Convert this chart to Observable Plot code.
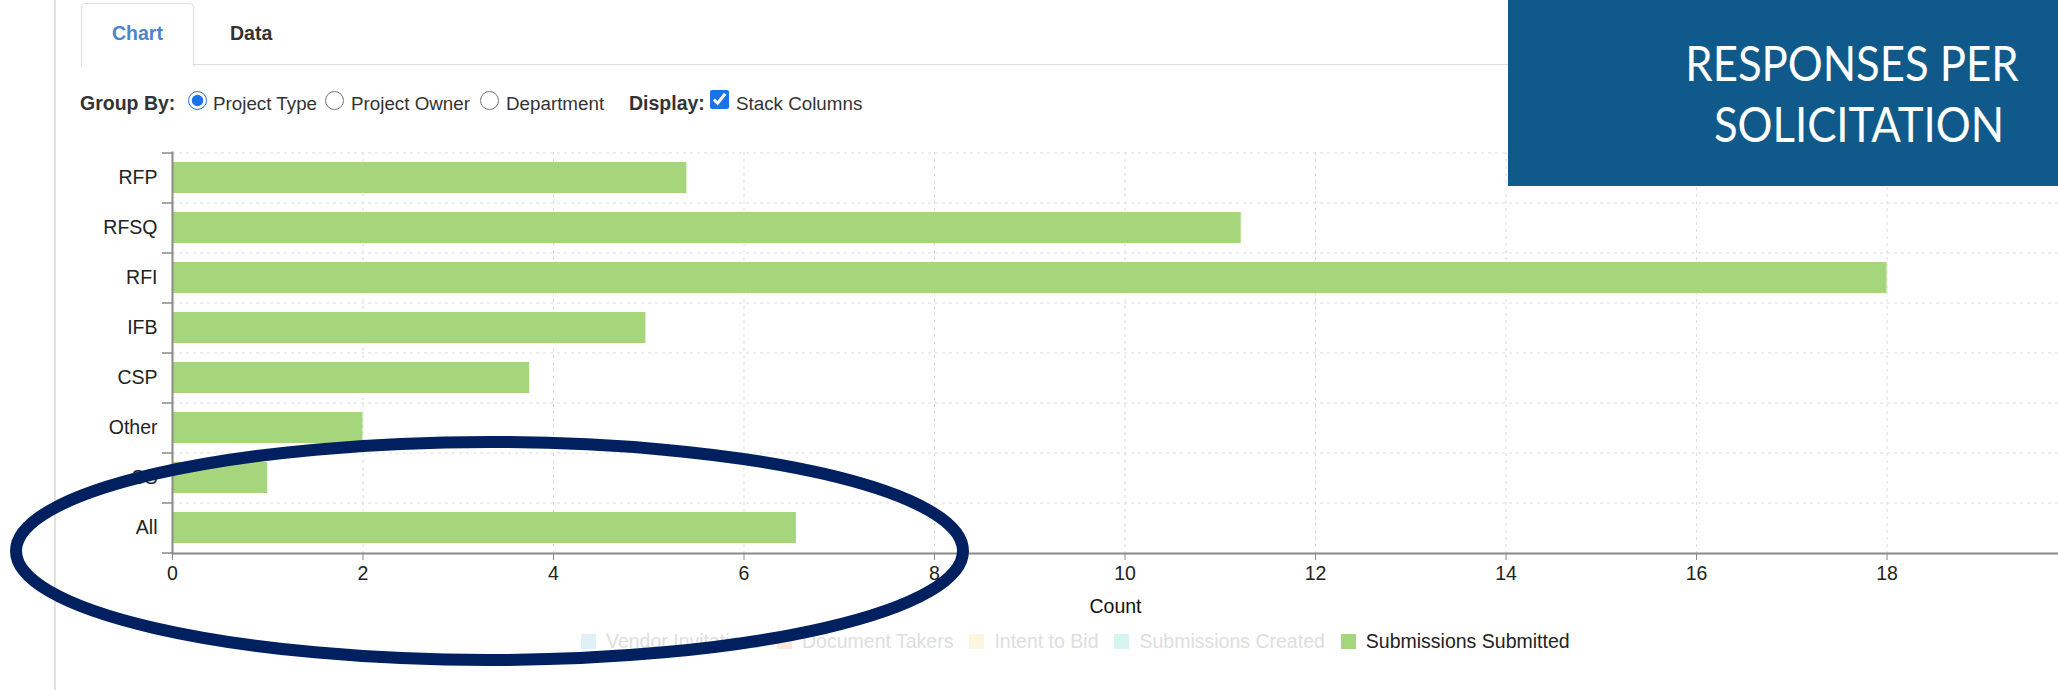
<!DOCTYPE html>
<html>
<head>
<meta charset="utf-8">
<script src="https://cdn.jsdelivr.net/npm/d3@7"></script>
<script src="https://cdn.jsdelivr.net/npm/@observablehq/plot@0.6"></script>
<style>
  html, body { margin: 0; padding: 0; background: #fff; overflow: hidden; width: 2058px; height: 690px; }
  body { position: relative; font-family: "Liberation Sans", Arial, sans-serif; color: #333; }
  .abs { position: absolute; }
  .txt { position: absolute; font-size: 18.8px; line-height: 19.5px; white-space: nowrap; }
  .b { font-weight: bold; font-size: 19.5px; }
  #leftline { left: 54px; top: 0; width: 2px; height: 690px; background: #e2e2e2; }
  #tab { left: 81px; top: 3px; width: 111px; height: 62px; border: 1px solid #ddd; border-bottom: none; border-radius: 5px 5px 0 0; background: #fff; }
  #tabline { left: 193px; top: 64px; width: 1400px; height: 1px; background: #ddd; }
  input.ctl { position: absolute; margin: 0; width: 19px; height: 19px; accent-color: #1a73e8; }
  #chart { left: 0; top: 0; }
  #banner { left: 1508px; top: 0; width: 550px; height: 186px; background: #0f5a8a; }
  #legend { left: 581px; top: 634px; height: 15px; display: flex; align-items: center; gap: 16px; font-size: 19.5px; }
  .item { display: flex; align-items: center; white-space: nowrap; line-height: 15px; }
  .sw { width: 15px; height: 15px; margin-right: 10px; }
  #overlay { left: 0; top: 0; pointer-events: none; }
</style>
</head>
<body>
<div id="leftline" class="abs"></div>
<div id="tabline" class="abs"></div>
<div id="tab" class="abs"></div>
<div class="txt b" style="left:112px;top:23.5px;color:#4a86c8;">Chart</div>
<div class="txt b" style="left:230px;top:23.5px;color:#333;">Data</div>

<div class="txt b" style="left:80px;top:93.5px;">Group By:</div>
<input class="ctl" type="radio" name="g" checked style="left:188px;top:90.5px;">
<div class="txt" style="left:213px;top:94px;">Project Type</div>
<input class="ctl" type="radio" name="g" style="left:325px;top:90.5px;">
<div class="txt" style="left:351px;top:94px;">Project Owner</div>
<input class="ctl" type="radio" name="g" style="left:480px;top:90.5px;">
<div class="txt" style="left:506px;top:94px;">Department</div>
<div class="txt b" style="left:629px;top:93.5px;">Display:</div>
<input class="ctl" type="checkbox" checked style="left:710px;top:89.5px;">
<div class="txt" style="left:736px;top:94px;">Stack Columns</div>

<div id="chart" class="abs"></div>

<div id="banner" class="abs"></div>
<svg class="abs" style="left:1508px;top:0;" width="550" height="186">
  <g transform="translate(344,81) scale(0.91,1)">
    <text x="0" y="0" text-anchor="middle" fill="#fff" font-family="Lato, Open Sans, sans-serif" font-size="48">RESPONSES PER</text>
  </g>
  <g transform="translate(351,142) scale(0.91,1)">
    <text x="0" y="0" text-anchor="middle" fill="#fff" font-family="Lato, Open Sans, sans-serif" font-size="48">SOLICITATION</text>
  </g>
</svg>

<div id="legend" class="abs"></div>

<svg id="overlay" class="abs" width="2058" height="690">
  <ellipse cx="489.5" cy="551" rx="473.5" ry="109" fill="none" stroke="#002060" stroke-width="12"></ellipse>
</svg>

<script>
// ---- data ----
const categories = ["RFP", "RFSQ", "RFI", "IFB", "CSP", "Other", "SS", "All"];
const values = [5.4, 11.22, 18, 4.97, 3.75, 2, 1, 6.55];
const xTicks = [0, 2, 4, 6, 8, 10, 12, 14, 16, 18];
const legendSeries = ["Vendor Invitations", "Document Takers", "Intent to Bid", "Submissions Created", "Submissions Submitted"];
const activeSeries = "Submissions Submitted";

// ---- styles ----
const seriesColors = ["#dff0f6", "#fde8dc", "#fdf5df", "#d6f4ef", "#a5d67b"];
const barColor = "#a5d67b";
const gridColor = "#dcdcdc";
const axisColor = "#8a8a8a";

const rows = categories.map((c, i) => ({category: c, value: values[i]}));

const chart = Plot.plot({
  width: 2058,
  height: 690,
  marginTop: 152,
  marginBottom: 137,
  marginLeft: 172,
  marginRight: 0,
  style: {fontFamily: "Liberation Sans, Arial, sans-serif", fontSize: "19.5px", color: "#222", background: "transparent", overflow: "visible"},
  x: {domain: [0, 19.8], axis: null},
  y: {domain: categories, paddingInner: 0.38, paddingOuter: 0.19, axis: null},
  marks: [
    Plot.gridX(xTicks.filter(d => d > 0), {stroke: gridColor, strokeOpacity: 1, strokeDasharray: "3,4"}),
    Plot.ruleY(categories, {y: d => d, dy: -25, stroke: gridColor, strokeDasharray: "3,4"}),
    Plot.barX(rows, {x: "value", y: "category", fill: barColor}),
    // y axis tick marks at band boundaries
    Plot.ruleY(categories, {y: d => d, dy: -25, x1: 0, x2: 0, insetLeft: -10, stroke: axisColor, strokeWidth: 1.5}),
    Plot.ruleY(categories.slice(-1), {y: d => d, dy: 25, x1: 0, x2: 0, insetLeft: -10, stroke: axisColor, strokeWidth: 1.5}),
    Plot.axisY({tickSize: 0, tickPadding: 15, label: null, fill: "#222", fontSize: 19.5}),
    Plot.axisX({ticks: xTicks, tickSize: 7, tickPadding: 6, label: null, stroke: axisColor, fill: "#222", fontSize: 19.5}),
    Plot.frame({anchor: "left", stroke: axisColor, strokeWidth: 2}),
    Plot.frame({anchor: "bottom", stroke: axisColor, strokeWidth: 2}),
    Plot.text(["Count"], {frameAnchor: "bottom", dy: 59, text: d => d, fill: "#111", fontSize: 19.5})
  ]
});
document.getElementById("chart").appendChild(chart);

// ---- legend ----
const legend = document.getElementById("legend");
legendSeries.forEach((s, i) => {
  const item = document.createElement("div");
  item.className = "item";
  const sw = document.createElement("div");
  sw.className = "sw";
  sw.style.background = seriesColors[i];
  const t = document.createElement("span");
  t.textContent = s;
  t.style.color = s === activeSeries ? "#222" : "#dedede";
  item.appendChild(sw);
  item.appendChild(t);
  legend.appendChild(item);
});
</script>
</body>
</html>
